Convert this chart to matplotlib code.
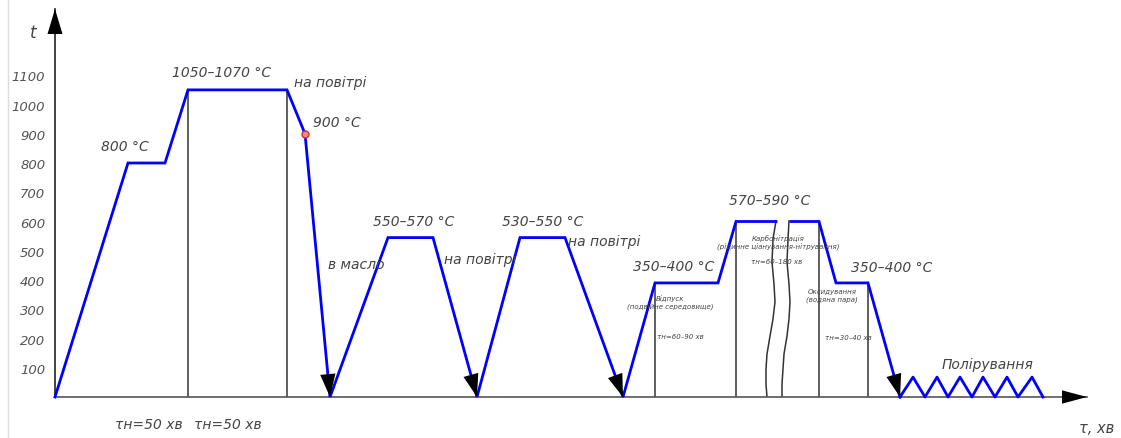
import numpy as np
import matplotlib
matplotlib.use("Agg")
import matplotlib.pyplot as plt
from matplotlib.lines import Line2D

# ---------------- data (time in arbitrary units, temperature in °C) -------------
seg1_t = [0, 73, 110, 133, 232, 250, 275, 333, 378, 422, 465, 510, 568, 600, 663, 681, 721]
seg1_T = [0, 800, 800, 1050, 1050, 900, 0, 545, 545, 0, 545, 545, 0, 390, 390, 600, 600]
seg2_t = [736, 764, 781, 813, 845]
seg2_T = [600, 600, 390, 390, 0]
zig_t = [845, 858, 870, 882, 893, 905, 917, 928, 940, 952, 963, 977, 988]
zig_T = [0, 68, 0, 68, 0, 68, 0, 68, 0, 68, 0, 68, 0]
marker_t, marker_T = 250, 900
arrow_ends = [(250, 900, 275, 0), (378, 545, 422, 0), (510, 545, 568, 0), (813, 390, 845, 0)]
vlines_t = [133, 232, 600, 681, 764, 813]
vlines_T = [1050, 1050, 390, 600, 600, 390]
wave_left_t = [721, 718, 717, 719, 720, 718, 715, 712, 711, 711, 712]
wave_right_t = [734, 733, 732, 734, 735, 734, 732, 729, 728, 727, 727]
wave_T = [602, 540, 462, 386, 325, 267, 208, 147, 96, 44, 0]
ytick_vals = [100, 200, 300, 400, 500, 600, 700, 800, 900, 1000, 1100]
ytick_labels = [str(v) for v in ytick_vals]

big_labels = [
    ("800 °C", 70, 858),
    ("1050–1070 °C", 167, 1111),
    ("на повітрі", 275, 1077),
    ("900 °C", 282, 940),
    ("в масло", 301, 455),
    ("550–570 °C", 359, 602),
    ("на повітрі", 425, 472),
    ("530–550 °C", 488, 602),
    ("на повітрі", 549, 533),
    ("350–400 °C", 619, 448),
    ("570–590 °C", 715, 673),
    ("350–400 °C", 837, 444),
    ("Полірування", 933, 113),
    ("τн=50 хв", 94, -92),
    ("τн=50 хв", 173, -92),
]
small_labels = [
    ("Відпуск\n(подвійне середовище)", 615, 325),
    ("τн=60–90 хв", 625, 209),
    ("Карбонітрація\n(рідинне ціанування-нітрування)", 723, 530),
    ("τн=60–180 хв", 722, 465),
    ("Оксидування\n(водяна пара)", 777, 349),
    ("τн=30–40 хв", 793, 205),
]

# ---------------- figure ----------------
W, H = 1121, 439
fig = plt.figure(figsize=(W / 100, H / 100), dpi=100)
fig.patch.set_facecolor("white")
ax = fig.add_axes([55 / W, 41 / H, 1032 / W, 388 / H])
ax.set_xlim(0, 1032)
ax.set_ylim(0, 1326.5)
for s in ["top", "right"]:
    ax.spines[s].set_visible(False)
ax.spines["left"].set_color("#222222")
ax.spines["left"].set_linewidth(1.2)
ax.spines["bottom"].set_color("#555555")
ax.spines["bottom"].set_linewidth(1.2)
ax.set_xticks([])
ax.set_yticks(ytick_vals)
ax.set_yticklabels(ytick_labels, fontstyle="italic", color="#555555", fontsize=9.5)
ax.tick_params(axis="y", length=0, pad=7)

# faint frame line on the left
fig.add_artist(Line2D([8 / W, 8 / W], [0, 1], color="#dddddd", lw=1))

blue = "#0000ff"
ax.plot(seg1_t, seg1_T, color=blue, lw=2, solid_joinstyle="miter", zorder=3, clip_on=False)
ax.plot(seg2_t, seg2_T, color=blue, lw=2, solid_joinstyle="miter", zorder=3, clip_on=False)
ax.plot(zig_t, zig_T, color=blue, lw=2, zorder=3, clip_on=False)
ax.plot([marker_t], [marker_T], "o", ms=5, mfc="#f08a8a", mec="#d03030", mew=1, zorder=5)

for t, T in zip(vlines_t, vlines_T):
    ax.plot([t, t], [0, T], color="#333333", lw=1.1, zorder=2)
ax.plot(wave_left_t, wave_T, color="#333333", lw=1.1, zorder=2)
ax.plot(wave_right_t, wave_T, color="#333333", lw=1.1, zorder=2)

# arrow heads at the ends of the cooling segments
for t0, T0, t1, T1 in arrow_ends:
    ax.annotate("", xy=(t1, T1), xytext=(t0, T0),
                arrowprops=dict(arrowstyle="-|>,head_length=1.5,head_width=0.5",
                                mutation_scale=11, color="black", lw=0,
                                shrinkA=0, shrinkB=0), zorder=6)

# axis arrows
ax.annotate("", xy=(0, 1.0), xytext=(0, 0.9), xycoords="axes fraction",
            arrowprops=dict(arrowstyle="-|>,head_length=1.5,head_width=0.45",
                            mutation_scale=12, color="black", lw=0, shrinkA=0, shrinkB=0))
ax.annotate("", xy=(1.0, 0), xytext=(0.95, 0), xycoords="axes fraction",
            arrowprops=dict(arrowstyle="-|>,head_length=1.5,head_width=0.4",
                            mutation_scale=12, color="black", lw=0, shrinkA=0, shrinkB=0))

tcol = "#444444"
for txt, t, T in big_labels:
    ax.text(t, T, txt, ha="center", va="center", fontsize=10, fontstyle="italic", color=tcol)
for txt, t, T in small_labels:
    ax.text(t, T, txt, ha="center", va="center", fontsize=5, fontstyle="italic",
            color=tcol, linespacing=1.3)

ax.text(-22, 1248, "t", ha="center", va="center", fontsize=12, fontstyle="italic", color=tcol)
ax.text(1042, -103, "τ, хв", ha="center", va="center", fontsize=10.5, fontstyle="italic", color=tcol)

fig.savefig("out.png", dpi=100, facecolor="white")
